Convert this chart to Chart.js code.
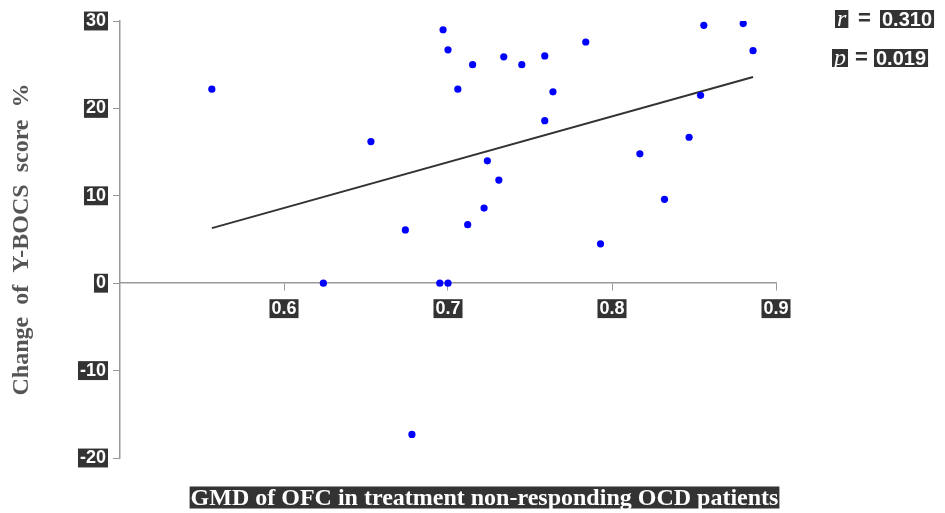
<!DOCTYPE html>
<html>
<head>
<meta charset="utf-8">
<script src="https://cdn.jsdelivr.net/npm/chart.js@4"></script>
<style>
  html, body { margin: 0; padding: 0; background: #fff; }
  #wrap { width: 945px; height: 513px; position: relative; }
</style>
</head>
<body>
<div id="wrap"><canvas id="scatterChart"></canvas></div>
<script>
// GMD of OFC (x) vs change of Y-BOCS score % (y)
const gmd = [0.556, 0.624, 0.653, 0.674, 0.678, 0.695, 0.697, 0.700, 0.700, 0.706,
  0.712, 0.715, 0.722, 0.724, 0.731, 0.734, 0.745, 0.759, 0.759, 0.764,
  0.784, 0.793, 0.817, 0.832, 0.847, 0.854, 0.856, 0.880, 0.886];
const ybocs = [22.2, 0, 16.2, 6.1, -17.3, 0, 29.0, 26.7, 0, 22.2,
  6.7, 25.0, 8.6, 14.0, 11.8, 25.9, 25.0, 26.0, 18.6, 21.9,
  27.6, 4.5, 14.8, 9.6, 16.7, 21.5, 29.5, 29.7, 26.6];

// fitted line
const fitX = [0.556, 0.886];
const fitY = [6.3, 23.6];

const xTicks = [0.6, 0.7, 0.8, 0.9];
const yTicks = [-20, -10, 0, 10, 20, 30];

const statLines = [
  { name: "r", value: "0.310" },
  { name: "p", value: "0.019" },
];
const xTitle = "GMD of OFC in treatment non-responding OCD patients";

const DARK = "#333333";

function boxText(ctx, text, x, y, font, padX, padY) {
  ctx.font = font;
  const w = ctx.measureText(text).width;
  ctx.fillStyle = DARK;
  ctx.fillRect(x, y - 9 - padY, w + padX * 2, 18 + padY * 2);
  ctx.fillStyle = "#fff";
  ctx.textBaseline = "middle";
  ctx.textAlign = "left";
  ctx.fillText(text, x + padX, y + 1);
  return w + padX * 2;
}

const annotations = {
  id: "annotations",
  afterDraw(chart) {
    const ctx = chart.ctx;
    ctx.save();
    // r and p
    const rows = [{ x: 835, y: 19, vx: 880 }, { x: 832, y: 58, vx: 874 }];
    statLines.forEach((s, i) => {
      const r = rows[i];
      boxText(ctx, s.name, r.x, r.y, "italic 24px 'Liberation Serif'", 2, 0);
      ctx.fillStyle = DARK;
      ctx.font = "bold 22px 'Liberation Sans'";
      ctx.textAlign = "left";
      ctx.textBaseline = "middle";
      ctx.fillText("=", r.x + 23, r.y);
      boxText(ctx, s.value, r.vx, r.y, "bold 20px 'Liberation Sans'", 2, 0);
    });
    // x axis title
    ctx.font = "bold 24px 'Liberation Serif'";
    const tw = ctx.measureText(xTitle).width;
    const cx = 484.5, cy = 497.5;
    ctx.fillStyle = DARK;
    ctx.fillRect(cx - tw / 2 - 1, cy - 11, tw + 2, 22);
    ctx.fillStyle = "#fff";
    ctx.textAlign = "center";
    ctx.textBaseline = "middle";
    ctx.fillText(xTitle, cx, cy + 1);
    ctx.restore();
  },
};

const tickFont = { family: "'Liberation Sans', Arial", size: 18, weight: "bold", lineHeight: 1.05 };

new Chart(document.getElementById("scatterChart"), {
  type: "scatter",
  data: {
    datasets: [
      {
        label: "patients",
        data: gmd.map((g, i) => ({ x: g, y: ybocs[i] })),
        backgroundColor: "#0000ff",
        borderWidth: 0,
        pointRadius: 3.6,
        order: 1,
      },
      {
        label: "fit",
        type: "line",
        data: fitX.map((g, i) => ({ x: g, y: fitY[i] })),
        borderColor: "#333333",
        borderWidth: 2,
        pointRadius: 0,
        fill: false,
        order: 2,
      },
    ],
  },
  options: {
    responsive: true,
    maintainAspectRatio: false,
    animation: false,
    layout: { padding: { left: 0, right: 169, top: 21, bottom: 55 } },
    plugins: { legend: { display: false }, tooltip: { enabled: false } },
    scales: {
      x: {
        type: "linear",
        position: { y: 0 },
        min: 0.5,
        max: 0.9,
        afterBuildTicks: (scale) => {
          scale.ticks = xTicks.map((v) => ({ value: v }));
        },
        grid: { display: true, drawOnChartArea: false, drawTicks: true, tickLength: 7, color: "#999" },
        border: { display: true, color: "#999", width: 1.5 },
        ticks: {
          font: tickFont,
          color: "#fff",
          padding: 9,
          maxRotation: 0,
          showLabelBackdrop: true,
          backdropColor: DARK,
          backdropPadding: { x: 2, y: 0 },
          callback: (v) => String(v),
        },
      },
      y: {
        min: -20,
        max: 30,
        afterBuildTicks: (scale) => {
          scale.ticks = yTicks.map((v) => ({ value: v }));
        },
        afterFit: (scale) => {
          scale.width = 120;
        },
        grid: { display: true, drawOnChartArea: false, drawTicks: true, tickLength: 7, color: "#999" },
        border: { display: true, color: "#999", width: 1.5 },
        ticks: {
          font: tickFont,
          color: "#fff",
          padding: 7,
          showLabelBackdrop: true,
          backdropColor: DARK,
          backdropPadding: { x: 2, y: 0 },
        },
        title: {
          display: true,
          text: "Change  of  Y-BOCS  score  %",
          color: "#555",
          font: { family: "'Liberation Serif', 'Times New Roman'", size: 24, weight: "bold" },
          padding: { top: 7, bottom: 0 },
        },
      },
    },
  },
  plugins: [annotations],
});
</script>
</body>
</html>
